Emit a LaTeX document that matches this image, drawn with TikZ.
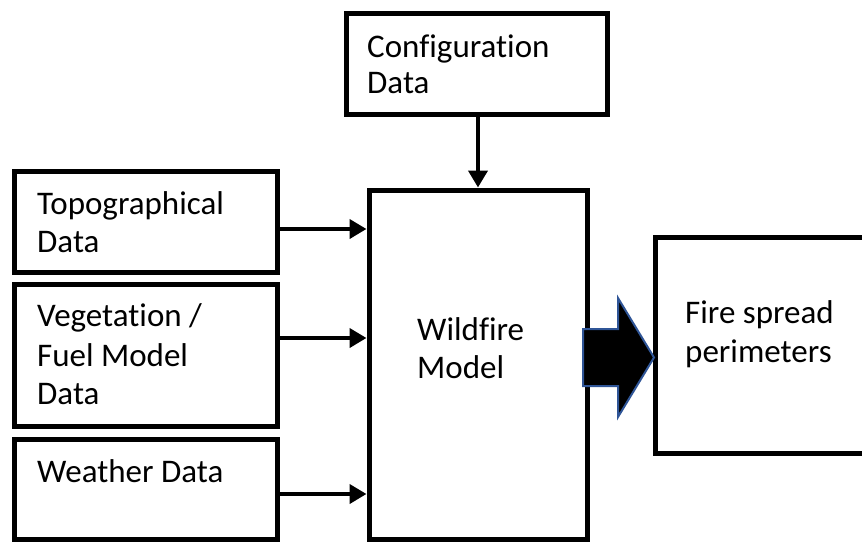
\documentclass[tikz,border=0pt]{standalone}
\usepackage{fontspec}
\setmainfont{Carlito}[Ligatures={NoCommon}]
\usetikzlibrary{arrows.meta}
\definecolor{arrowblue}{HTML}{2F5597}
\begin{document}
\begin{tikzpicture}[x=1pt,y=-1pt,
  box/.style={draw=black, line width=5pt, rectangle, inner sep=0pt},
  txt/.style={inner sep=0pt, anchor=base west, font=\fontsize{33}{39}\selectfont},
  conn/.style={line width=4pt, -{Triangle[length=17pt,width=19pt]}}]
\useasboundingbox (0,0) rectangle (862,542);
% boxes
\node[box, minimum width=261pt, minimum height=101pt] (config) at (476.5,63.5) {};
\node[box, minimum width=263pt, minimum height=101pt] (topo) at (145.5,221.5) {};
\node[box, minimum width=263pt, minimum height=142pt] (veg) at (145.5,355) {};
\node[box, minimum width=263pt, minimum height=100pt] (weather) at (145.5,489) {};
\node[box, minimum width=218pt, minimum height=349pt] (wild) at (478,364.5) {};
\node[box, minimum width=213pt, minimum height=216pt] (fire) at (761.5,345) {};
% texts
\node[txt] (configA) at (367,57) {Configuration};
\node[txt] (configB) at (367,93) {Data};
\node[txt] (topoA) at (37,214) {Topographical};
\node[txt] (topoB) at (37,252) {Data};
\node[txt] (vegA) at (37,326) {Vegetation /};
\node[txt] (vegB) at (37,366) {Fuel Model};
\node[txt] (vegC) at (37,404) {Data};
\node[txt] (weatherA) at (37,482) {Weather Data};
\node[txt] (wildA) at (417,340) {Wildfire};
\node[txt] (wildB) at (417,378) {Model};
\node[txt] (fireA) at (685,323) {Fire spread};
\node[txt] (fireB) at (685,362) {perimeters};
% connectors
\draw[conn] (config.south -| 478,0) -- (wild.north -| 478,0);
\draw[conn] (topo.east |- 0,229) -- (wild.west |- 0,229);
\draw[conn] (veg.east |- 0,338) -- (wild.west |- 0,338);
\draw[conn] (weather.east |- 0,494) -- (wild.west |- 0,494);
% big block arrow
\coordinate (tail) at (583,357.5);
\coordinate (tip) at (654,357.5);
\draw[fill=black, draw=arrowblue, line width=2pt, line join=miter]
  (tail |- 0,329) -- (618,329) -- (618,298) -- (tip) -- (618,417) -- (618,386) -- (tail |- 0,386) -- cycle;
\end{tikzpicture}
\end{document}
